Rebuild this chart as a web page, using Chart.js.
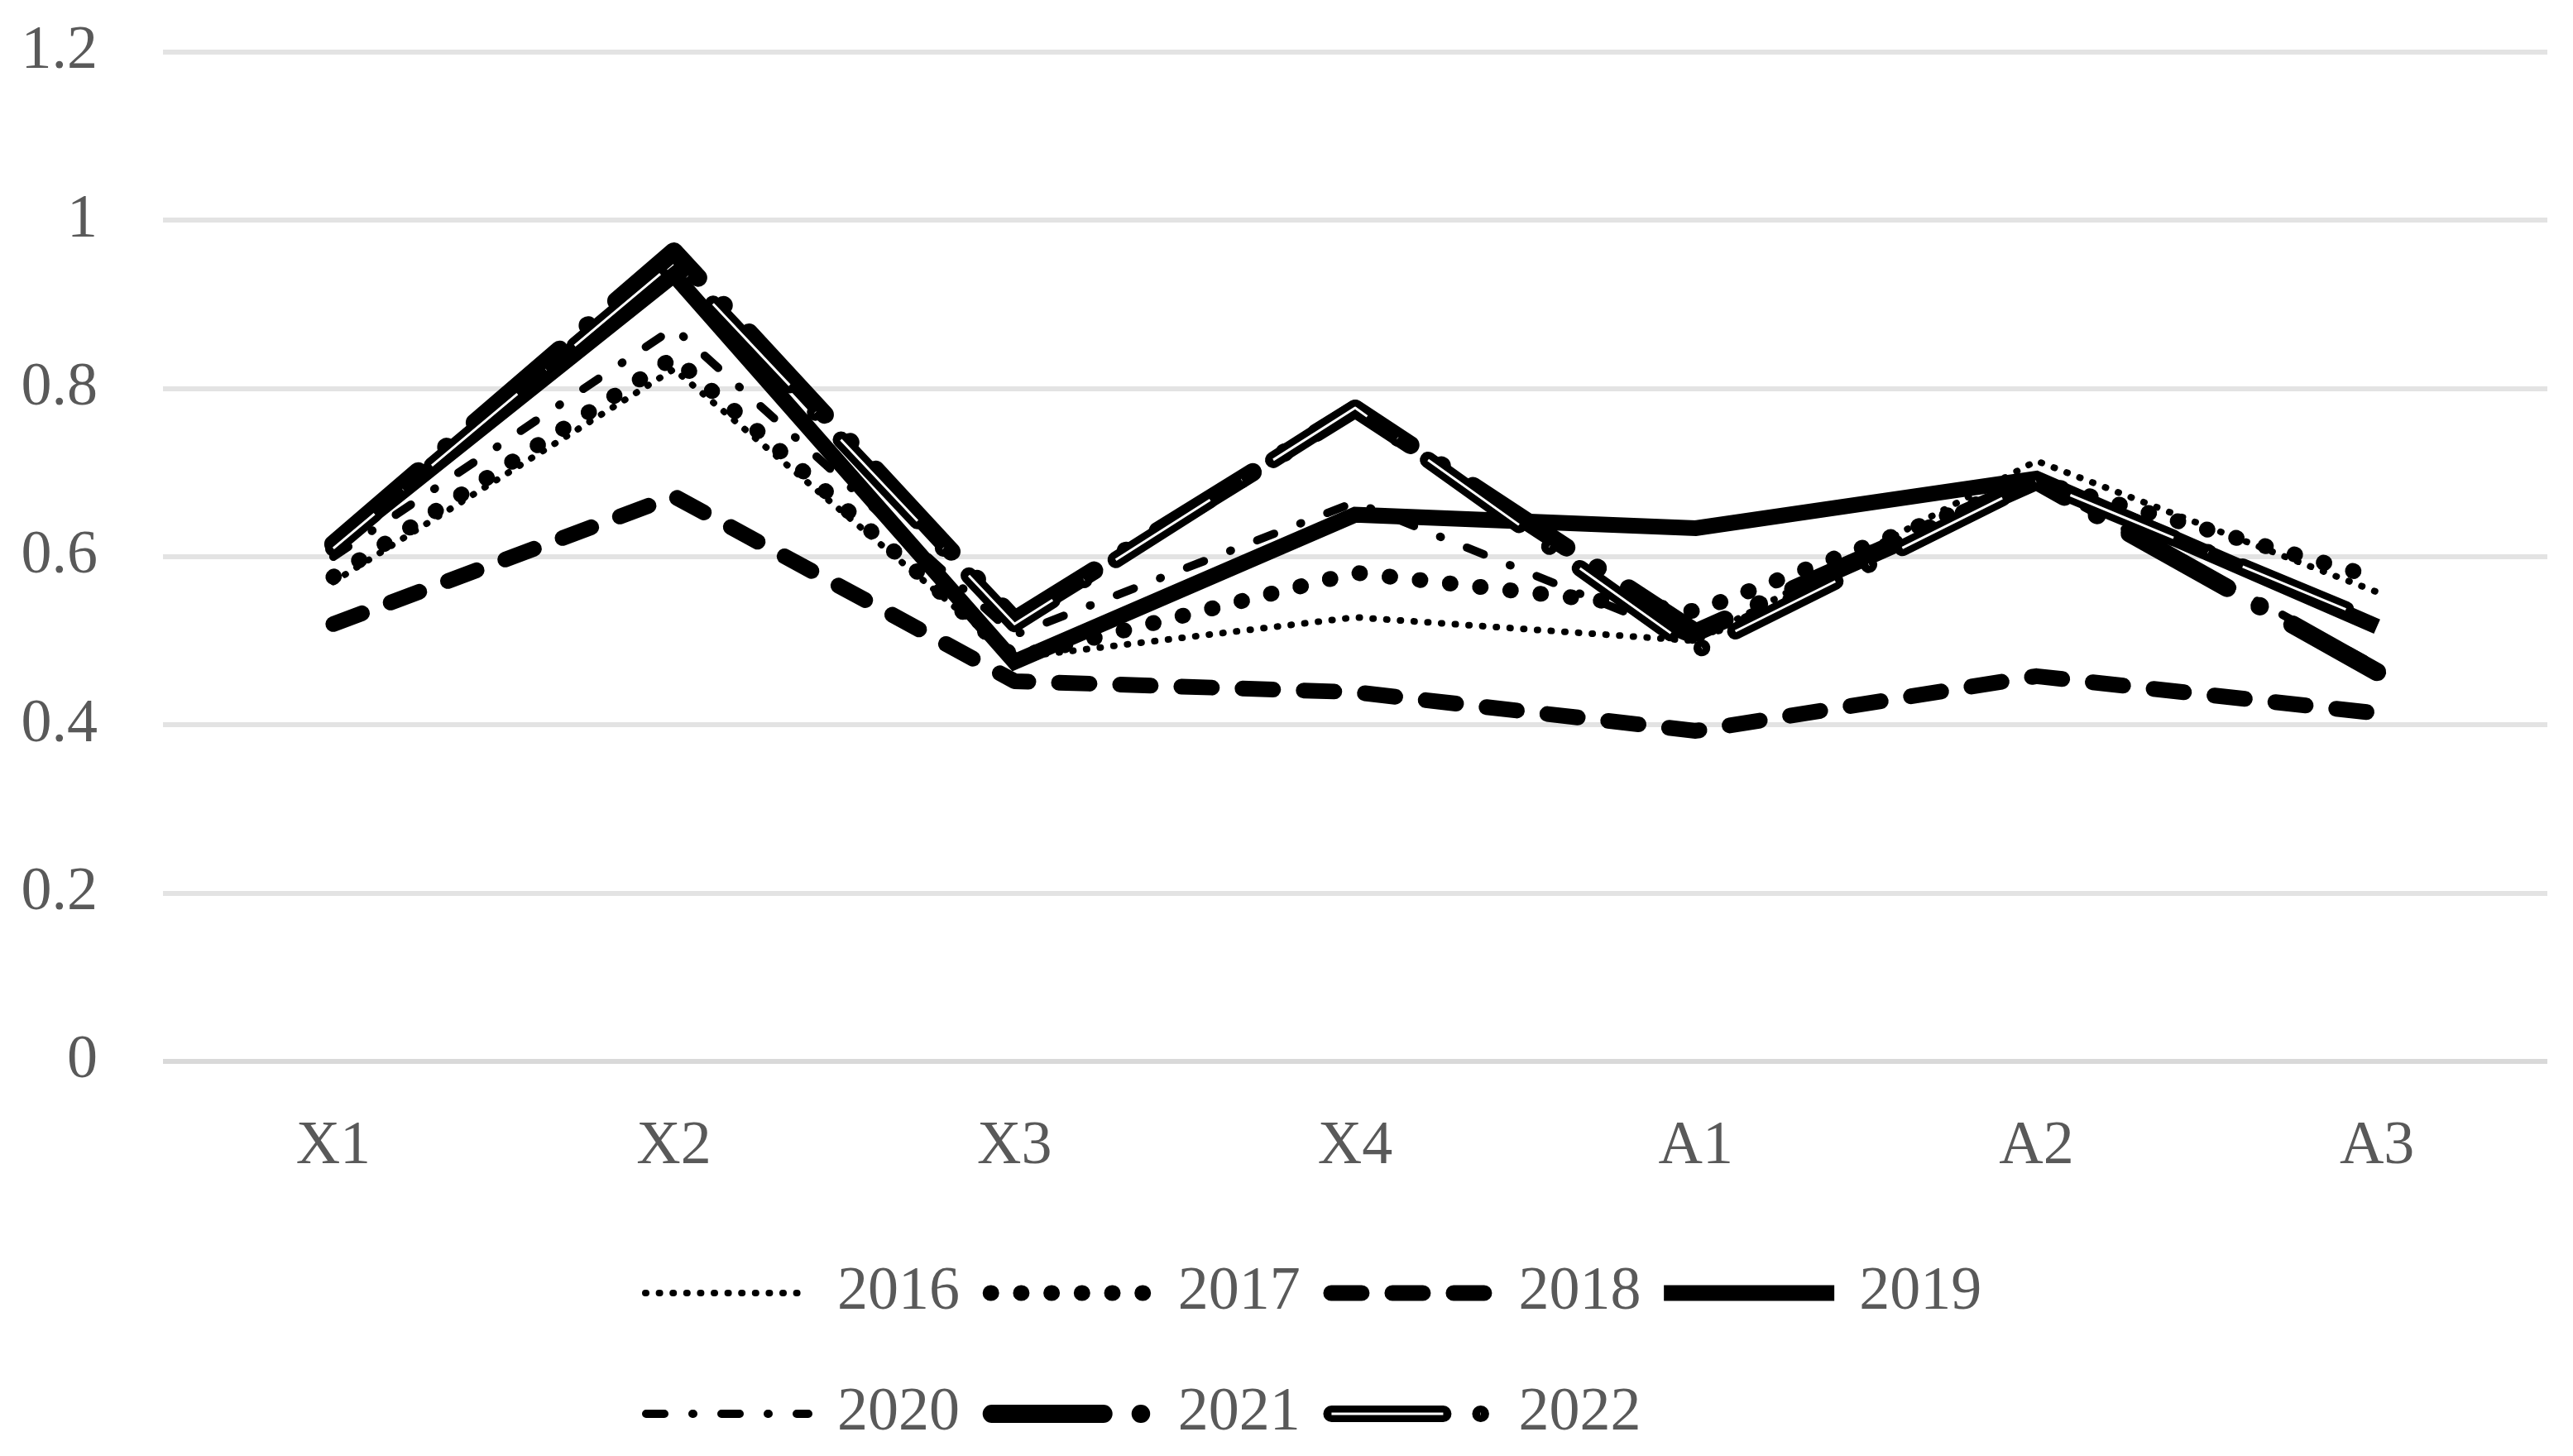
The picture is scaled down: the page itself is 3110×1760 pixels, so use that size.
<!DOCTYPE html>
<html><head><meta charset="utf-8">
<script src="https://cdn.jsdelivr.net/npm/chart.js@4.4.0/dist/chart.umd.min.js"></script>
<style>html,body{margin:0;padding:0;background:#fff;}#wrap{width:3110px;height:1760px;position:relative;background:#fff;}</style>
</head><body><div id="wrap"><canvas id="c" width="3110" height="1760"></canvas></div>
<script>
const categories = ['X1','X2','X3','X4','A1','A2','A3'];
const yTickLabels = ['0','0.2','0.4','0.6','0.8','1','1.2'];
const seriesNames = ['2016','2017','2018','2019','2020','2021','2022'];
const s2016 = [0.570,0.823,0.480,0.528,0.500,0.714,0.558];
const s2017 = [0.576,0.837,0.480,0.581,0.535,0.690,0.575];
const s2018 = [0.520,0.672,0.452,0.439,0.393,0.458,0.414];
const s2019 = [0.612,0.935,0.475,0.650,0.634,0.693,0.517];
const s2020 = [0.600,0.872,0.507,0.665,0.500,0.690,0.470];
const s2021 = [0.615,0.963,0.525,0.776,0.510,0.690,0.463];
const s2022 = [0.610,0.950,0.520,0.777,0.488,0.690,0.522];
const seriesValues = [s2016,s2017,s2018,s2019,s2020,s2021,s2022];

const FONT = 'Liberation Serif';
const TXT = '#595959';
const styles = [
  {w:8,  dash:[1,15.6], cap:'round', join:'round'},
  {w:19, dash:[1,35.7], cap:'round', join:'round'},
  {w:19, dash:[37,37], cap:'round', join:'round'},
  {w:19, dash:[], cap:'butt', join:'miter'},
  {w:10, dash:[22,34,1,34], cap:'round', join:'round'},
  {w:22, dash:[135,45,0.5,45], cap:'round', join:'round', sw:215},
  {w:20, dash:[135,45,0.5,45], cap:'round', join:'round', dbl:true, off:70, sw:215}
];

const doubleLine = {
  id:'doubleLine',
  afterDatasetDraw(chart, args){
    const ds = chart.data.datasets[args.index];
    if(!ds.doubleLine) return;
    const pts = args.meta.data;
    const ctx = chart.ctx;
    ctx.save();
    ctx.beginPath();
    pts.forEach((p,k)=> k ? ctx.lineTo(p.x,p.y) : ctx.moveTo(p.x,p.y));
    ctx.lineWidth = 3; ctx.strokeStyle = '#fff';
    ctx.setLineDash(ds.borderDash); ctx.lineDashOffset = ds.borderDashOffset || 0;
    ctx.lineCap = 'butt'; ctx.lineJoin = 'round';
    ctx.stroke();
    ctx.restore();
  }
};

const excelLegend = {
  id:'excelLegend',
  afterDraw(chart){
    const ctx = chart.ctx;
    const colW = (chart.chartArea.right - chart.chartArea.left) / categories.length;
    const startX = 776;
    chart.data.datasets.forEach((ds,i)=>{
      const row = i < 4 ? 0 : 1;
      const col = i < 4 ? i : i - 4;
      const x0 = startX + col * colW;
      const y = row === 0 ? 1563 : 1709;
      const sw = styles[i].sw || 206;
      const half = ds.borderWidth / 2;
      ctx.save();
      ctx.beginPath();
      ctx.lineWidth = ds.borderWidth;
      ctx.strokeStyle = '#000';
      ctx.setLineDash(ds.borderDash);
      ctx.lineDashOffset = 0;
      ctx.lineCap = ds.borderCapStyle;
      const xa = ds.borderCapStyle === 'round' ? x0 + half : x0;
      const xb = ds.borderCapStyle === 'round' ? x0 + sw - half : x0 + sw;
      ctx.moveTo(xa, y); ctx.lineTo(xb, y);
      ctx.stroke();
      if (ds.doubleLine) {
        ctx.beginPath();
        ctx.lineWidth = 3; ctx.strokeStyle = '#fff'; ctx.lineCap = 'butt';
        ctx.setLineDash(ds.borderDash);
        ctx.moveTo(xa, y); ctx.lineTo(xb, y); ctx.stroke();
      }
      ctx.setLineDash([]);
      ctx.fillStyle = TXT;
      ctx.font = '74px "' + FONT + '"';
      ctx.textBaseline = 'middle';
      ctx.textAlign = 'left';
      ctx.fillText(ds.label, x0 + 236, y);
      ctx.restore();
    });
  }
};

new Chart(document.getElementById('c'), {
  type:'line',
  data:{
    labels: categories,
    datasets: seriesValues.map((d,i)=>({
      label: seriesNames[i], data: d,
      borderColor:'#000', backgroundColor:'#000',
      borderWidth: styles[i].w, borderDash: styles[i].dash,
      borderDashOffset: styles[i].off || 0,
      borderCapStyle: styles[i].cap, borderJoinStyle: styles[i].join,
      doubleLine: !!styles[i].dbl,
      pointRadius:0, pointHoverRadius:0, tension:0, fill:false,
      order: 7 - i
    }))
  },
  options:{
    responsive:false, animation:false, devicePixelRatio:1,
    layout:{padding:{left:0,right:31,top:63,bottom:0}},
    plugins:{legend:{display:false}, tooltip:{enabled:false}},
    scales:{
      x:{
        offset:true,
        grid:{display:false, drawTicks:false},
        border:{display:false},
        ticks:{color:TXT, font:{family:FONT, size:74}, padding:59},
        afterFit:(s)=>{ s.height = 1760 - 1283; s.paddingLeft = 0; s.paddingRight = 0; }
      },
      y:{
        min:0, max:1.2,
        ticks:{stepSize:0.2, color:TXT, font:{family:FONT, size:74}, padding:79,
               callback:(v,i)=> yTickLabels[i]},
        grid:{lineWidth:6, drawTicks:false,
              color:(c)=> (c.tick && c.tick.value === 0) ? '#d9d9d9' : '#e3e3e3'},
        border:{display:false},
        afterFit:(s)=>{ s.width = 197; s.paddingTop = 0; s.paddingBottom = 0; }
      }
    }
  },
  plugins:[doubleLine, excelLegend]
});
</script></body></html>
